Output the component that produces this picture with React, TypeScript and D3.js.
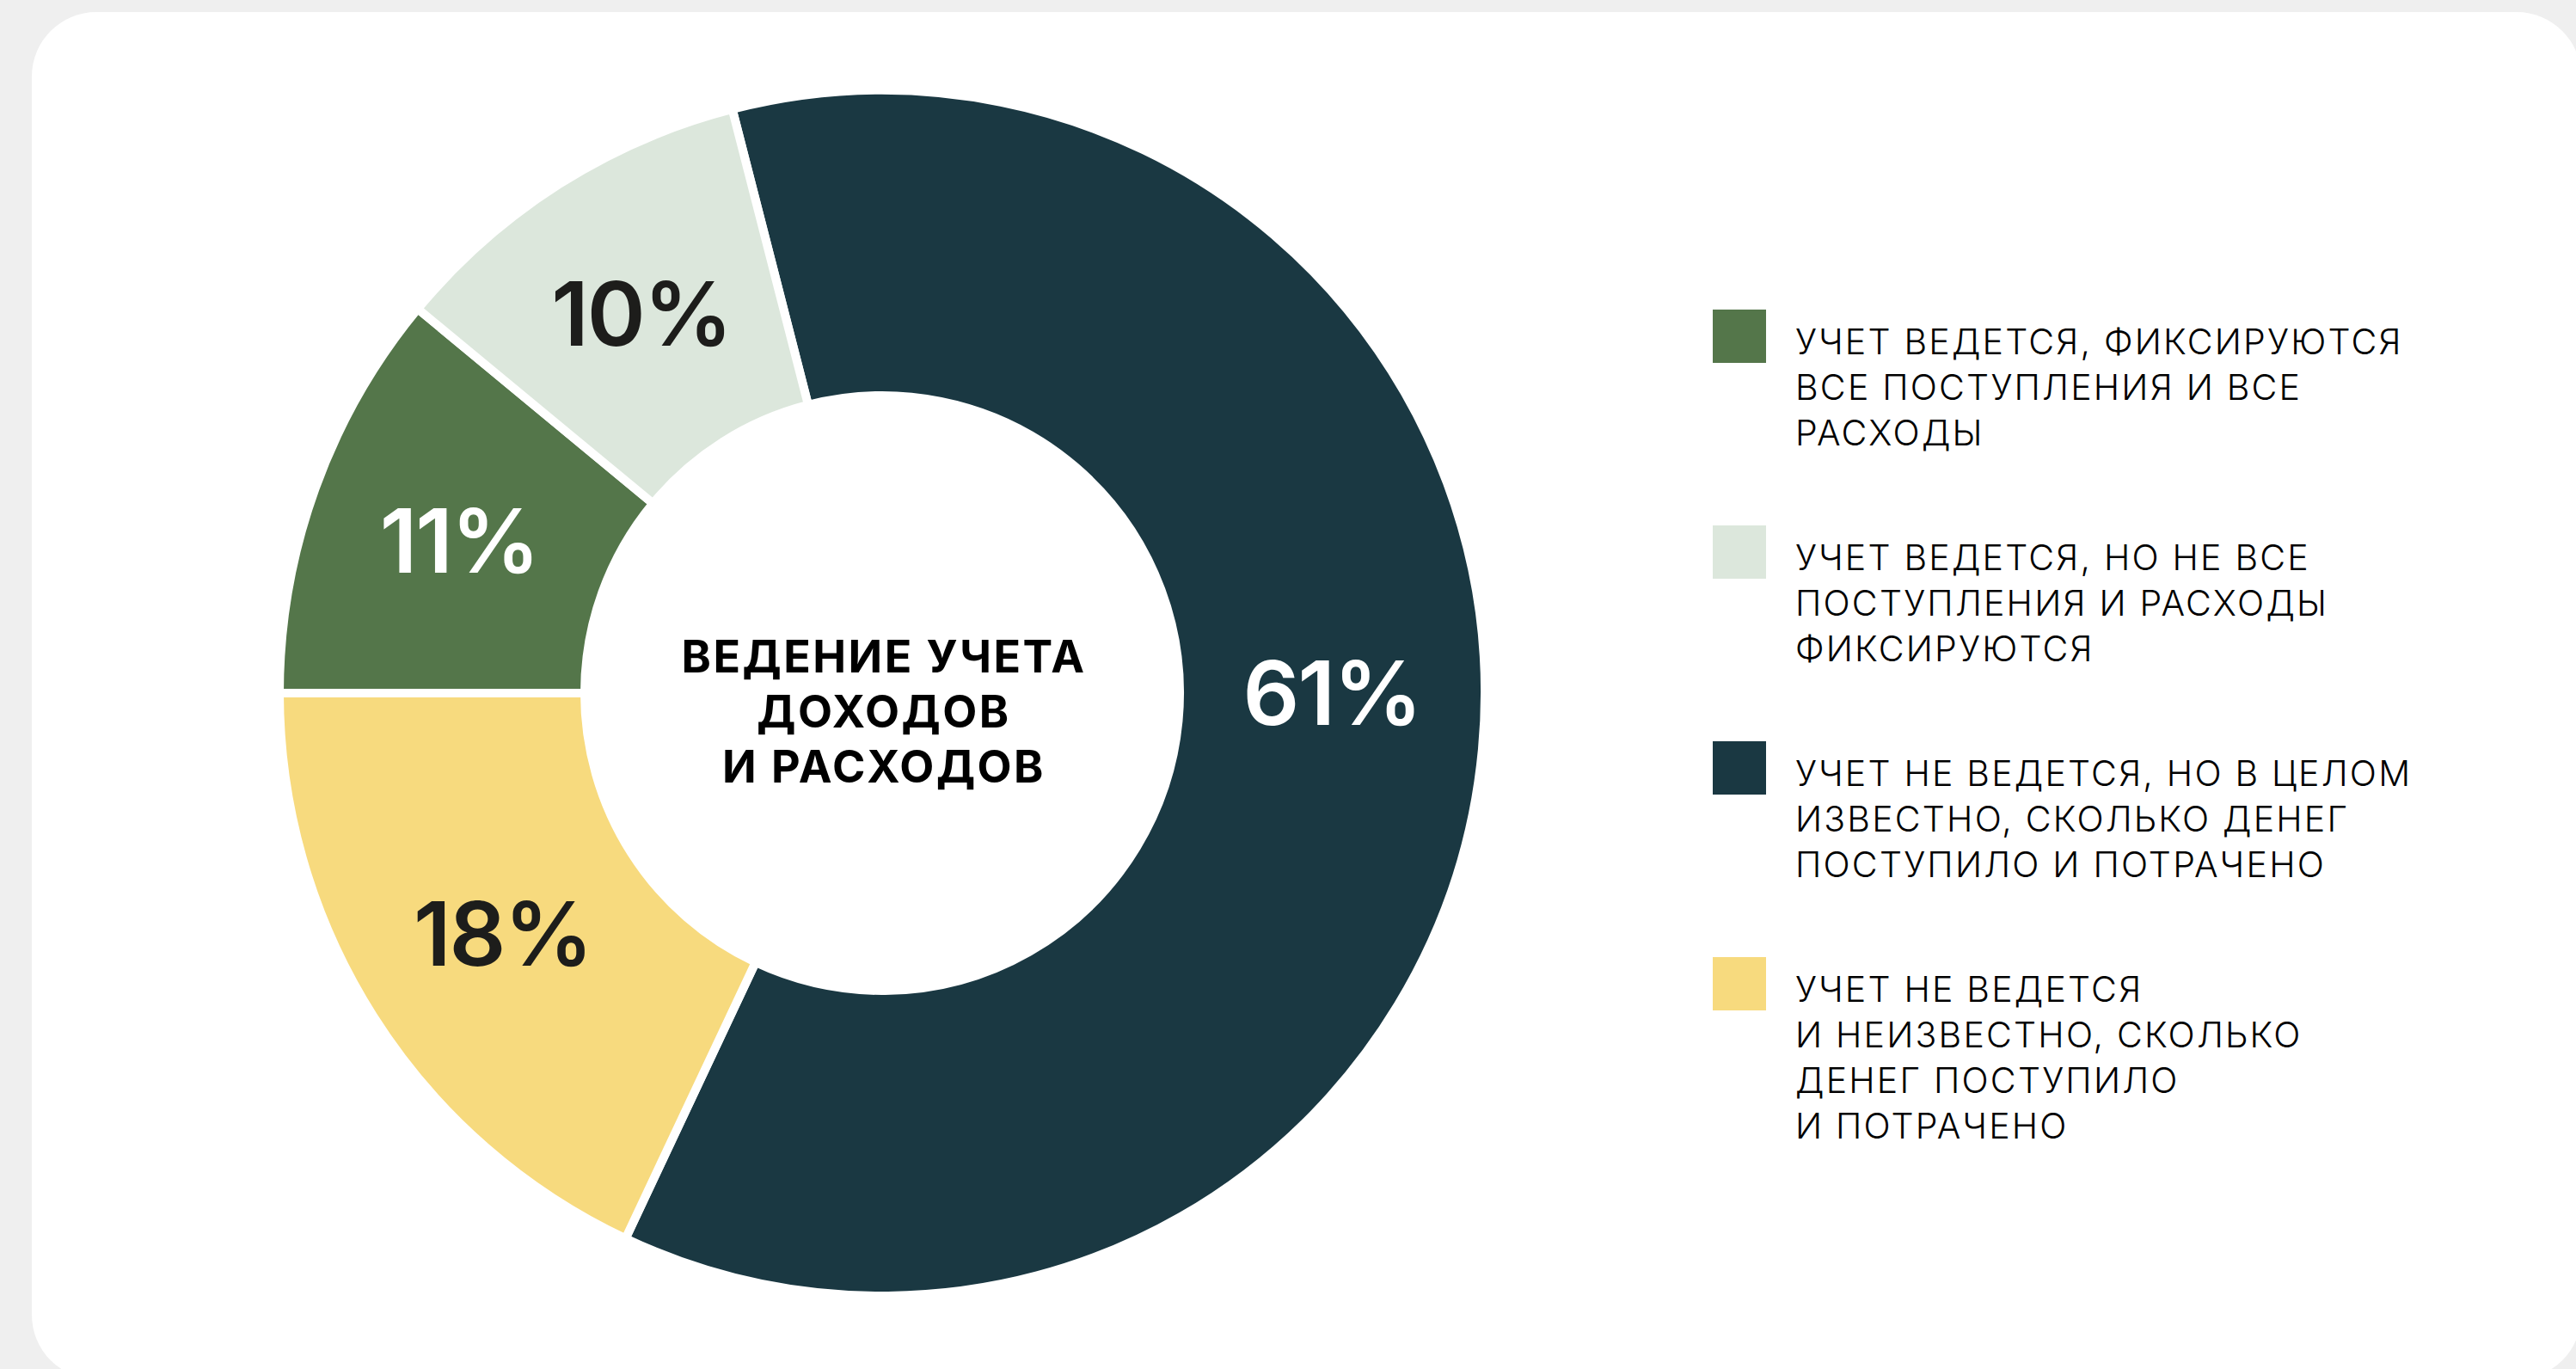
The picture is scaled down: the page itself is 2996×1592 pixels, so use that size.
import React, { useEffect, useRef } from 'react';
import * as d3 from 'd3';

// data
const categories = [
  'Учет не ведется, но в целом известно, сколько денег поступило и потрачено',
  'Учет не ведется и неизвестно, сколько денег поступило и потрачено',
  'Учет ведется, фиксируются все поступления и все расходы',
  'Учет ведется, но не все поступления и расходы фиксируются',
];
const shares = [61, 18, 11, 10];
const sliceColors = ['#1a3842', '#f7da7e', '#54764a', '#dce7dc'];
const labelColors = ['#ffffff', '#1d1d1b', '#ffffff', '#1d1d1b'];

// legend order and its line breaks, as in the picture
const legendOrder = [2, 3, 0, 1];
const legendLines = [
  ['УЧЕТ ВЕДЕТСЯ, ФИКСИРУЮТСЯ', 'ВСЕ ПОСТУПЛЕНИЯ И ВСЕ', 'РАСХОДЫ'],
  ['УЧЕТ ВЕДЕТСЯ, НО НЕ ВСЕ', 'ПОСТУПЛЕНИЯ И РАСХОДЫ', 'ФИКСИРУЮТСЯ'],
  ['УЧЕТ НЕ ВЕДЕТСЯ, НО В ЦЕЛОМ', 'ИЗВЕСТНО, СКОЛЬКО ДЕНЕГ', 'ПОСТУПИЛО И ПОТРАЧЕНО'],
  ['УЧЕТ НЕ ВЕДЕТСЯ', 'И НЕИЗВЕСТНО, СКОЛЬКО', 'ДЕНЕГ ПОСТУПИЛО', 'И ПОТРАЧЕНО'],
];
const titleLines = ['ВЕДЕНИЕ УЧЕТА', 'ДОХОДОВ', 'И РАСХОДОВ'];

const FONT = 'Inter, "Noto Sans", sans-serif';

const App = () => {
  const ref = useRef<SVGSVGElement | null>(null);
  const width = 2996;
  const height = 1592;

  useEffect(() => {
    document.body.style.margin = '0';
    const svg = d3.select(ref.current);
    svg.selectAll('*').remove();

    svg.append('rect').attr('width', width).attr('height', height).attr('fill', '#efefef');
    svg.append('rect')
      .attr('x', 37).attr('y', 14)
      .attr('width', 2965).attr('height', 1590)
      .attr('rx', 75).attr('ry', 75)
      .attr('fill', '#ffffff');

    const cx = 1026, cy = 806;
    const outer = 701, inner = 346;
    const labelR = 523;

    // green/yellow boundary sits exactly at 9 o'clock
    const start = -Math.PI / 2 + ((shares[2] + shares[3]) / 100) * 2 * Math.PI;
    const pie = d3.pie<number>().sort(null).value(d => d)
      .startAngle(start).endAngle(start + 2 * Math.PI);
    const arcs = pie(shares);
    const arc = d3.arc<d3.PieArcDatum<number>>().innerRadius(inner).outerRadius(outer);

    // the big slice has its label on the horizontal through the centre
    const labelPos = (d: d3.PieArcDatum<number>) => {
      const a = d.data > 50 ? Math.PI / 2 : (d.startAngle + d.endAngle) / 2;
      return [Math.sin(a) * labelR, -Math.cos(a) * labelR];
    };

    const g = svg.append('g').attr('transform', `translate(${cx},${cy})`);

    g.append('circle').attr('r', outer + 1)
      .attr('fill', 'none').attr('stroke', '#c9d0d0').attr('stroke-width', 1.5);

    g.selectAll('path.slice')
      .data(arcs)
      .join('path')
      .attr('class', 'slice')
      .attr('d', arc)
      .attr('fill', (d, i) => sliceColors[i])
      .attr('stroke', '#ffffff')
      .attr('stroke-width', 10)
      .attr('stroke-linejoin', 'miter');

    g.selectAll('text.pct')
      .data(arcs)
      .join('text')
      .attr('class', 'pct')
      .attr('transform', d => `translate(${labelPos(d)})`)
      .attr('text-anchor', 'middle')
      .attr('dy', '0.36em')
      .attr('font-family', FONT)
      .attr('font-weight', 600)
      .attr('font-size', 103)
      .attr('letter-spacing', -2)
      .attr('fill', (d, i) => labelColors[i])
      .text(d => `${d.data}%`);

    const title = g.append('text')
      .attr('text-anchor', 'middle')
      .attr('font-family', FONT)
      .attr('font-weight', 700)
      .attr('font-size', 52)
      .attr('letter-spacing', 2.5)
      .attr('fill', '#000000');
    titleLines.forEach((t, i) => {
      title.append('tspan').attr('x', 2).attr('y', -24 + i * 64).text(t);
    });

    const legend = svg.append('g').attr('transform', 'translate(1992,360)');
    const item = legend.selectAll('g')
      .data(legendOrder)
      .join('g')
      .attr('transform', (d, i) => `translate(0,${i * 251})`);
    item.append('rect')
      .attr('width', 62).attr('height', 62)
      .attr('fill', d => sliceColors[d]);
    item.append('title').text(d => categories[d]);
    item.each(function (d, i) {
      const txt = d3.select(this).append('text')
        .attr('font-family', FONT)
        .attr('font-weight', 300)
        .attr('font-size', 41)
        .attr('letter-spacing', 2.2)
        .attr('fill', '#000000');
      legendLines[i].forEach((line, j) => {
        txt.append('tspan').attr('x', 96).attr('y', 52 + j * 53).text(line);
      });
    });
  }, []);

  return <svg ref={ref} width={width} height={height} style={{ display: 'block' }} />;
};

export default App;
